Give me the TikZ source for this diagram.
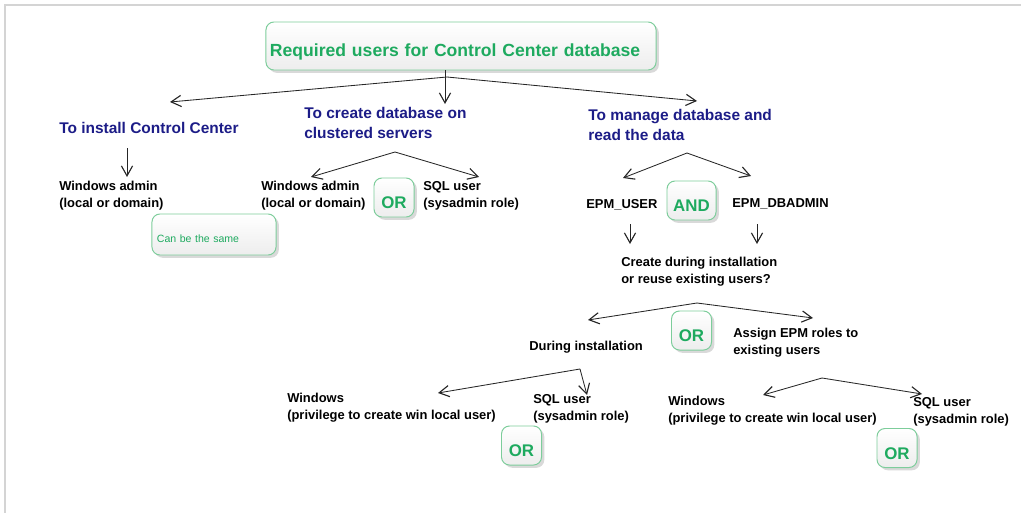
\documentclass[tikz,border=0pt]{standalone}
\usepackage{fontspec}
\setmainfont{Liberation Sans}
\usetikzlibrary{arrows.meta,shadows}
\definecolor{navytext}{RGB}{28,28,135}
\definecolor{greentext}{RGB}{30,170,95}
\definecolor{greenline}{RGB}{125,205,155}
\definecolor{framegray}{RGB}{212,212,212}
\tikzset{
  arr/.style={-{Straight Barb[length=0.25cm,width=0.28cm,line width=0.8pt]}, line width=0.6pt, black!85},
  goal/.style={anchor=west, inner sep=0pt, align=left, text=navytext, font=\fontsize{11}{14.2}\selectfont\bfseries},
  user/.style={anchor=west, inner sep=0pt, align=left, font=\fontsize{9.2}{12}\selectfont\bfseries},
  gbox/.style={draw=greenline, line width=0.7pt, rounded corners=0.2cm, top color=white, bottom color=black!7,
    drop shadow={shadow xshift=0.07cm, shadow yshift=-0.07cm, fill=black!25, opacity=0.6},
    text=greentext, font=\fontsize{12}{14}\selectfont\bfseries, text height=16pt, text depth=0pt, inner sep=0pt},
  orbox/.style={gbox, minimum width=1.0cm, minimum height=0.975cm},
}
\begin{document}
\begin{tikzpicture}[x=0.025cm, y=-0.025cm]
\useasboundingbox (0,0) rectangle (1021,513);
\draw[framegray, line width=0.8pt] (5,513) -- (5,5) -- (1021,5);

\node[gbox, minimum width=9.75cm, minimum height=1.2cm, text width=9.55cm, align=left, inner xsep=0.1cm,
  font=\fontsize{12.5}{15}\selectfont\bfseries, text height=15pt] (title) at (461,46) {Required users for Control Center database};

\node[goal] (install) at (59,128) {To install Control Center};
\node[goal] (cluster) at (304,123) {To create database on\\clustered servers};
\node[goal] (manage) at (588,125) {To manage database and\\read the data};

\node[user] (winA) at (59,195.5) {Windows admin\\(local or domain)};
\node[gbox, minimum width=3.1cm, minimum height=1.025cm, text width=2.85cm, align=left, inner xsep=0.125cm,
  font=\fontsize{7.5}{9}\selectfont, text height=11pt] (same) at (214,234.5) {Can be the same};

\node[user] (winB) at (261,195.5) {Windows admin\\(local or domain)};
\node[orbox] (orB) at (394,197.5) {OR};
\node[user] (sqlB) at (423,195.5) {SQL user\\(sysadmin role)};

\node[user] (epmuser) at (586,205) {EPM\_USER};
\node[orbox, minimum width=1.225cm] (andM) at (691.5,200.5) {AND};
\node[user] (epmdba) at (732,204) {EPM\_DBADMIN};

\node[user] (reuse) at (621,271.5) {Create during installation\\or reuse existing users?};
\node[user] (during) at (529,347) {During installation};
\node[orbox] (orR) at (691.5,330.5) {OR};
\node[user] (assign) at (733,343) {Assign EPM roles to\\existing users};

\node[user] (winC) at (287,407.5) {Windows\\(privilege to create win local user)};
\node[user] (sqlC) at (533,408.5) {SQL user\\(sysadmin role)};
\node[orbox] (orC) at (521.5,445.5) {OR};

\node[user] (winD) at (668,410.5) {Windows\\(privilege to create win local user)};
\node[user] (sqlD) at (913,411.5) {SQL user\\(sysadmin role)};
\node[orbox] (orD) at (897,448) {OR};

\coordinate (tTop) at (445,104);
\coordinate (jTop) at (447,77);
\coordinate (tInstall) at (170,102);
\coordinate (tManage) at (697,101);
\draw[arr] (title.south -| tTop) -- (tTop);
\draw[arr] (jTop) -- (tInstall);
\draw[arr] (jTop) -- (tManage);

\coordinate (sInstall) at (127,148);
\coordinate (tWinA) at (127,177);
\draw[arr] (sInstall) -- (tWinA);

\coordinate (jCluster) at (395,152);
\coordinate (tWinB) at (311,177);
\coordinate (tSqlB) at (479,177);
\draw[arr] (jCluster) -- (tWinB);
\draw[arr] (jCluster) -- (tSqlB);

\coordinate (jManage) at (687,153);
\coordinate (tEpmUser) at (623,178);
\coordinate (tEpmDba) at (751,176);
\draw[arr] (jManage) -- (tEpmUser);
\draw[arr] (jManage) -- (tEpmDba);

\coordinate (sEpmUser) at (630,224);
\coordinate (sEpmDba) at (757,224);
\draw[arr] (sEpmUser) -- (630,244);
\draw[arr] (sEpmDba) -- (757,244);

\coordinate (jReuse) at (697,303);
\coordinate (tDuring) at (588,320);
\coordinate (tAssign) at (813,318);
\draw[arr] (jReuse) -- (tDuring);
\draw[arr] (jReuse) -- (tAssign);

\coordinate (jDuring) at (580,369);
\coordinate (tWinC) at (438,393);
\coordinate (tSqlC) at (587,395);
\draw[arr] (jDuring) -- (tWinC);
\draw[arr] (jDuring) -- (tSqlC);

\coordinate (jAssign) at (822,378);
\coordinate (tWinD) at (763,395);
\coordinate (tSqlD) at (922,394);
\draw[arr] (jAssign) -- (tWinD);
\draw[arr] (jAssign) -- (tSqlD);
\end{tikzpicture}
\end{document}
